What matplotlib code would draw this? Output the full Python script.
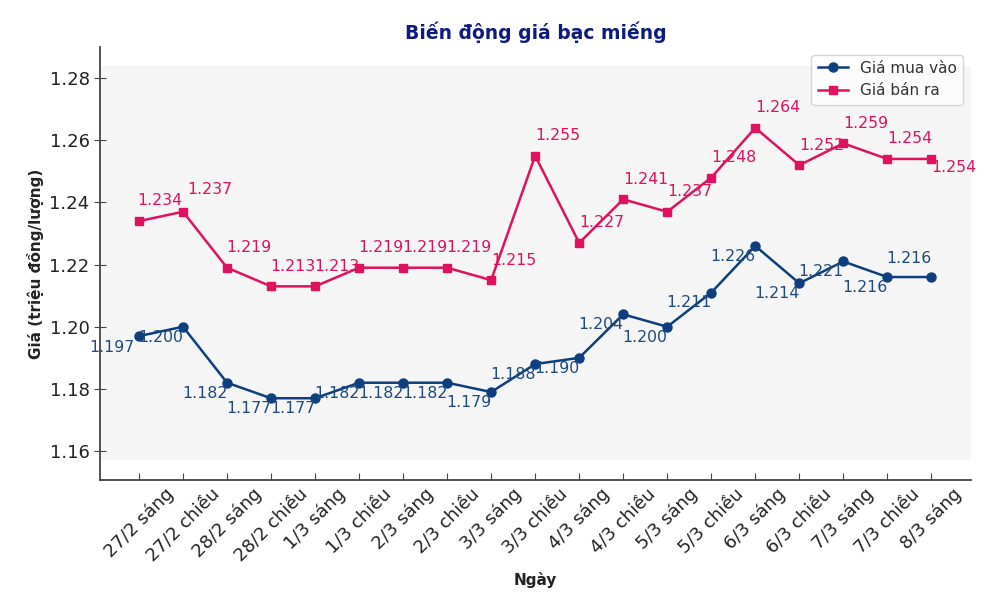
import matplotlib
matplotlib.use("Agg")
import matplotlib.pyplot as plt
from matplotlib.patches import Rectangle

# data
ngay = ["27/2 sáng", "27/2 chiều", "28/2 sáng", "28/2 chiều", "1/3 sáng",
        "1/3 chiều", "2/3 sáng", "2/3 chiều", "3/3 sáng", "3/3 chiều",
        "4/3 sáng", "4/3 chiều", "5/3 sáng", "5/3 chiều", "6/3 sáng",
        "6/3 chiều", "7/3 sáng", "7/3 chiều", "8/3 sáng"]
gia_mua = [1.197, 1.200, 1.182, 1.177, 1.177, 1.182, 1.182, 1.182, 1.179, 1.188,
           1.190, 1.204, 1.200, 1.211, 1.226, 1.214, 1.221, 1.216, 1.216]
gia_ban = [1.234, 1.237, 1.219, 1.213, 1.213, 1.219, 1.219, 1.219, 1.215, 1.255,
           1.227, 1.241, 1.237, 1.248, 1.264, 1.252, 1.259, 1.254, 1.254]
yticks = [1.16, 1.18, 1.20, 1.22, 1.24, 1.26, 1.28]

# label offsets (points) for the value annotations
mua_off = [(-19.5, -8)] + [(-16, -7.5)] * 17 + [(-16, 13)]
ban_off = [(15, 14.5), (19, 16)] + [(16, 14.5)] * 16 + [(16, -6.5)]

c_mua = "#0d3f7f"
c_ban = "#e0115f"

fig = plt.figure(figsize=(10.01, 6.03), dpi=100)
ax = fig.add_axes([0.0999, 0.204, 0.8701, 0.718])
ax.set_facecolor("white")
ax.add_patch(Rectangle((0, 0.046), 1, 0.91, transform=ax.transAxes,
                       facecolor="#f5f5f6", edgecolor="none", zorder=0))

x = list(range(len(ngay)))
ax.plot(x, gia_mua, color=c_mua, marker="o", markersize=6.5, linewidth=1.8,
        label="Giá mua vào", zorder=3)
ax.plot(x, gia_ban, color=c_ban, marker="s", markersize=6, linewidth=1.8,
        label="Giá bán ra", zorder=3)

for i, v in enumerate(gia_mua):
    ax.annotate(f"{v:.3f}", (i, v), xytext=mua_off[i], textcoords="offset points",
                ha="center", va="center", fontsize=11.3, color="#1f4a7e", zorder=4)
for i, v in enumerate(gia_ban):
    ax.annotate(f"{v:.3f}", (i, v), xytext=ban_off[i], textcoords="offset points",
                ha="center", va="center", fontsize=11.3, color=c_ban, zorder=4)

ax.set_xlim(-0.886, 18.9)
ax.set_ylim(1.1507, 1.29)
ax.set_yticks(yticks)
ax.set_yticklabels([f"{t:.2f}" for t in yticks], fontsize=13, color="#222222")
ax.set_xticks(x)
ax.set_xticklabels(ngay, rotation=45, fontsize=13, color="#222222")
ax.tick_params(axis="both", direction="in", length=5, color="#444444")
ax.tick_params(axis="y", direction="inout", length=8)

for s in ["top", "right"]:
    ax.spines[s].set_visible(False)
for s in ["left", "bottom"]:
    ax.spines[s].set_color("#444444")
    ax.spines[s].set_linewidth(1.3)

ax.set_title("Biến động giá bạc miếng", fontsize=13.5, fontweight="bold",
             color="#0d1a80", pad=6)
ax.set_xlabel("Ngày", fontsize=11, fontweight="bold", color="#222222", labelpad=5)
ax.set_ylabel("Giá (triệu đồng/lượng)", fontsize=11, fontweight="bold",
              color="#222222", labelpad=4)

leg = ax.legend(loc="upper right", fontsize=11, frameon=True, facecolor="white",
                edgecolor="#cccccc", labelcolor="#333333")
leg.get_frame().set_linewidth(1)

fig.savefig("out.png", dpi=100, facecolor="white")
